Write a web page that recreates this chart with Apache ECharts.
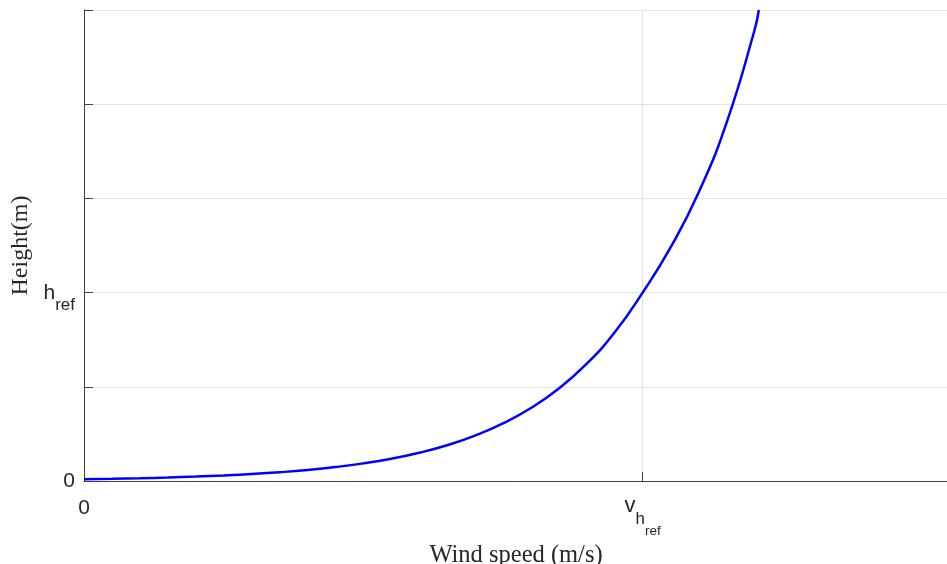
<!DOCTYPE html>
<html>
<head>
<meta charset="utf-8">
<script src="https://cdn.jsdelivr.net/npm/echarts@6/dist/echarts.min.js"></script>
<style>html,body{margin:0;padding:0;background:#fff;}#c{width:947px;height:564px;}</style>
</head>
<body>
<div id="c"></div>
<script>
// Wind speed in units of v_href, height in units where h_ref = 2
var windSpeed = [0, 0.05, 0.1, 0.15, 0.2, 0.25, 0.3, 0.35, 0.4, 0.45, 0.5, 0.55, 0.6, 0.65, 0.7, 0.75, 0.8, 0.85, 0.9, 0.95, 1.0, 1.05, 1.1, 1.15, 1.2, 1.208];
var height    = [0.019, 0.023, 0.029, 0.037, 0.047, 0.059, 0.074, 0.093, 0.117, 0.148, 0.187, 0.236, 0.300, 0.380, 0.482, 0.611, 0.775, 0.982, 1.245, 1.578, 2.0, 2.48, 3.06, 3.80, 4.78, 5.0];
var xTickLabels = {0: '{z|0}', 1: '{v|v}{h|h}{r|ref}'};
var yTickLabels = {0: '0', 2: '{h|h}{r|ref}'};
var xMax = 1.5466;
var yMax = 5;

var data = windSpeed.map(function (v, i) { return [v, height[i]]; });
var chart = echarts.init(document.getElementById('c'), null, {renderer: 'canvas'});
var axisColor = '#404040';
var textColor = '#262626';
chart.setOption({
  animation: false,
  backgroundColor: '#ffffff',
  grid: {left: 84, right: -1, top: 10, bottom: 83, containLabel: false, outerBoundsMode: 'none'},
  xAxis: {
    type: 'value', min: 0, max: xMax, interval: 1,
    name: 'Wind speed (m/s)', nameLocation: 'middle', nameGap: 59,
    nameTextStyle: {fontFamily: 'Liberation Serif', fontSize: 24.5, color: textColor},
    axisLine: {show: true, lineStyle: {color: axisColor, width: 1}},
    axisTick: {show: true, inside: true, length: 9, lineStyle: {color: axisColor}},
    splitLine: {show: true, lineStyle: {color: '#e3e3e3', width: 1}},
    axisLabel: {
      margin: 14, fontFamily: 'Liberation Sans', fontSize: 21, color: textColor,
      showMaxLabel: false,
      formatter: function (v) { return xTickLabels[Math.round(v * 1000) / 1000] || ''; },
      rich: {
        z: {fontFamily: 'Liberation Sans', fontSize: 21, color: textColor, lineHeight: 21, padding: [3, 0, 0, 0], verticalAlign: 'top'},
        v: {fontFamily: 'Liberation Sans', fontSize: 22, color: textColor, lineHeight: 20, padding: [0, 0, 20, 0], verticalAlign: 'top'},
        h: {fontFamily: 'Liberation Sans', fontSize: 17, color: textColor, lineHeight: 16, padding: [16, 0, 8, 0], verticalAlign: 'top'},
        r: {fontFamily: 'Liberation Sans', fontSize: 13.5, color: textColor, lineHeight: 12, padding: [29, 0, 0, 0], verticalAlign: 'top'}
      }
    }
  },
  yAxis: {
    type: 'value', min: 0, max: yMax, interval: 1,
    name: 'Height(m)', nameLocation: 'middle', nameGap: 50,
    nameTextStyle: {fontFamily: 'Liberation Serif', fontSize: 24, color: textColor},
    axisLine: {show: true, lineStyle: {color: axisColor, width: 1}},
    axisTick: {show: true, inside: true, length: 9, lineStyle: {color: axisColor}},
    splitLine: {show: true, lineStyle: {color: '#e3e3e3', width: 1}},
    axisLabel: {
      margin: 9, fontFamily: 'Liberation Sans', fontSize: 21, color: textColor,
      formatter: function (v) { return yTickLabels[v] || ''; },
      rich: {
        h: {fontFamily: 'Liberation Sans', fontSize: 21, color: textColor, lineHeight: 20, padding: [0, 0, 14, 0], verticalAlign: 'top'},
        r: {fontFamily: 'Liberation Sans', fontSize: 17, color: textColor, lineHeight: 14, padding: [14, 0, 6, 0], verticalAlign: 'top'}
      }
    }
  },
  series: [{
    type: 'line', data: data, smooth: 0.5, showSymbol: false, clip: true,
    lineStyle: {color: '#0000ff', width: 2.5}
  }]
});
</script>
</body>
</html>
